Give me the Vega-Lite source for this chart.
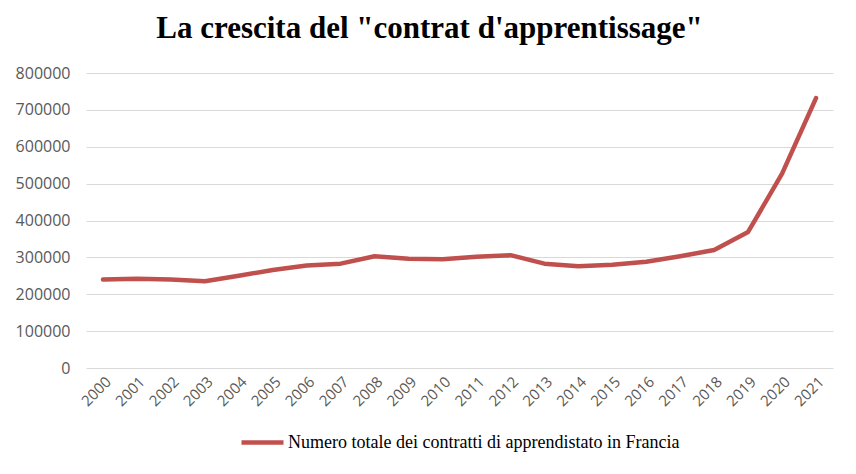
{
  "$schema": "https://vega.github.io/schema/vega-lite/v6.json",
  "width": 856,
  "height": 474,
  "autosize": {"type": "fit", "contains": "padding"},
  "padding": {"left": 15, "top": 13, "right": 23, "bottom": 22},
  "background": "white",
  "title": {
    "text": "La crescita del \"contrat d'apprentissage\"",
    "font": "Liberation Serif",
    "fontSize": 31,
    "fontWeight": "bold",
    "color": "#000000",
    "anchor": "middle",
    "frame": "group",
    "dx": -30,
    "offset": 20
  },
  "data": {
    "values": [
      {"anno": "2000", "contratti": 240000, "serie": "Numero totale dei contratti di apprendistato in Francia"},
      {"anno": "2001", "contratti": 242000, "serie": "Numero totale dei contratti di apprendistato in Francia"},
      {"anno": "2002", "contratti": 240000, "serie": "Numero totale dei contratti di apprendistato in Francia"},
      {"anno": "2003", "contratti": 235000, "serie": "Numero totale dei contratti di apprendistato in Francia"},
      {"anno": "2004", "contratti": 250000, "serie": "Numero totale dei contratti di apprendistato in Francia"},
      {"anno": "2005", "contratti": 266000, "serie": "Numero totale dei contratti di apprendistato in Francia"},
      {"anno": "2006", "contratti": 278000, "serie": "Numero totale dei contratti di apprendistato in Francia"},
      {"anno": "2007", "contratti": 283000, "serie": "Numero totale dei contratti di apprendistato in Francia"},
      {"anno": "2008", "contratti": 303000, "serie": "Numero totale dei contratti di apprendistato in Francia"},
      {"anno": "2009", "contratti": 296000, "serie": "Numero totale dei contratti di apprendistato in Francia"},
      {"anno": "2010", "contratti": 295000, "serie": "Numero totale dei contratti di apprendistato in Francia"},
      {"anno": "2011", "contratti": 302000, "serie": "Numero totale dei contratti di apprendistato in Francia"},
      {"anno": "2012", "contratti": 306000, "serie": "Numero totale dei contratti di apprendistato in Francia"},
      {"anno": "2013", "contratti": 283000, "serie": "Numero totale dei contratti di apprendistato in Francia"},
      {"anno": "2014", "contratti": 276000, "serie": "Numero totale dei contratti di apprendistato in Francia"},
      {"anno": "2015", "contratti": 280000, "serie": "Numero totale dei contratti di apprendistato in Francia"},
      {"anno": "2016", "contratti": 288000, "serie": "Numero totale dei contratti di apprendistato in Francia"},
      {"anno": "2017", "contratti": 303000, "serie": "Numero totale dei contratti di apprendistato in Francia"},
      {"anno": "2018", "contratti": 320000, "serie": "Numero totale dei contratti di apprendistato in Francia"},
      {"anno": "2019", "contratti": 369000, "serie": "Numero totale dei contratti di apprendistato in Francia"},
      {"anno": "2020", "contratti": 527000, "serie": "Numero totale dei contratti di apprendistato in Francia"},
      {"anno": "2021", "contratti": 732000, "serie": "Numero totale dei contratti di apprendistato in Francia"}
    ]
  },
  "mark": {"type": "line", "strokeWidth": 4.5, "strokeCap": "round", "strokeJoin": "round"},
  "encoding": {
    "x": {
      "field": "anno",
      "type": "ordinal",
      "scale": {"type": "point", "padding": 0.5},
      "axis": {
        "title": null,
        "labelAngle": -45,
        "labelFont": "Open Sans",
        "labelFontSize": 15,
        "labelColor": "#595959",
        "domain": false,
        "ticks": false,
        "grid": false,
        "labelPadding": 6
      }
    },
    "y": {
      "field": "contratti",
      "type": "quantitative",
      "scale": {"domain": [0, 800000], "nice": false},
      "axis": {
        "title": null,
        "values": [0, 100000, 200000, 300000, 400000, 500000, 600000, 700000, 800000],
        "format": "d",
        "labelFont": "Open Sans",
        "labelFontSize": 16,
        "labelColor": "#595959",
        "domain": false,
        "ticks": false,
        "gridColor": "#d9d9d9",
        "gridWidth": 1.2,
        "labelPadding": 16
      }
    },
    "color": {
      "field": "serie",
      "type": "nominal",
      "scale": {"range": ["#c0504d"]},
      "legend": {
        "title": null,
        "orient": "bottom",
        "symbolType": "stroke",
        "symbolStrokeWidth": 4.5,
        "symbolSize": 1764,
        "labelFont": "Liberation Serif",
        "labelFontSize": 18,
        "labelColor": "#000000",
        "labelLimit": 700,
        "labelOffset": 2,
        "offset": 10
      }
    }
  },
  "config": {
    "view": {"stroke": null},
    "legend": {"layout": {"bottom": {"anchor": "middle"}}}
  }
}
